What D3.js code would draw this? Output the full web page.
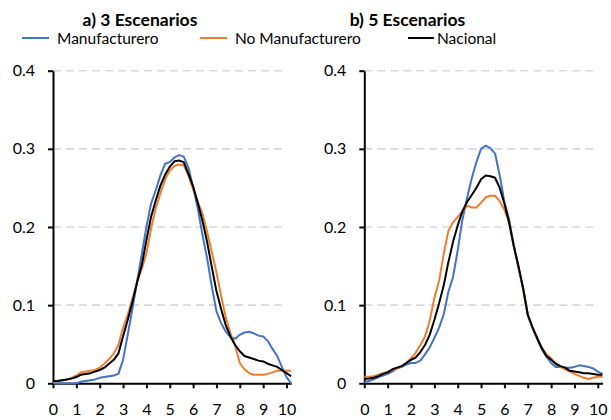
<!DOCTYPE html>
<html>
<head>
<meta charset="utf-8">
<script src="https://cdn.jsdelivr.net/npm/d3@7"></script>
<style>
  html, body { margin: 0; padding: 0; background: #fff; }
  svg { display: block; font-family: Lato, "Open Sans", sans-serif; }
</style>
</head>
<body>
<svg id="chart" width="611" height="420"></svg>
<script>
// Grid of x positions shared by every curve
const xGrid = [0, 0.2, 0.4, 0.6, 0.8, 1.0, 1.2, 1.4, 1.6, 1.8,
  2.0, 2.2, 2.4, 2.6, 2.8, 3.0, 3.2, 3.4, 3.6, 3.8,
  4.0, 4.2, 4.4, 4.6, 4.8, 5.0, 5.2, 5.4, 5.6, 5.8,
  6.0, 6.2, 6.4, 6.6, 6.8, 7.0, 7.2, 7.4, 7.6, 7.8,
  8.0, 8.2, 8.4, 8.6, 8.8, 9.0, 9.2, 9.4, 9.6, 9.8,
  10.0, 10.2];

// a) 3 Escenarios
const manuf3 = [0.000, 0.000, 0.000, 0.000, 0.000, 0.000, 0.002, 0.003, 0.004, 0.005,
  0.007, 0.008, 0.009, 0.010, 0.012, 0.030, 0.062, 0.095, 0.130, 0.165,
  0.200, 0.230, 0.247, 0.266, 0.281, 0.283, 0.289, 0.292, 0.290, 0.276,
  0.251, 0.224, 0.190, 0.160, 0.124, 0.092, 0.077, 0.066, 0.059, 0.057,
  0.062, 0.065, 0.066, 0.064, 0.061, 0.060, 0.054, 0.044, 0.035, 0.021,
  0.008, 0.000];
const noManuf3 = [0.002, 0.003, 0.004, 0.005, 0.007, 0.010, 0.014, 0.015, 0.016, 0.017,
  0.020, 0.025, 0.031, 0.038, 0.049, 0.071, 0.088, 0.108, 0.130, 0.146,
  0.166, 0.198, 0.224, 0.243, 0.261, 0.272, 0.278, 0.280, 0.279, 0.266,
  0.248, 0.232, 0.217, 0.194, 0.168, 0.142, 0.112, 0.084, 0.064, 0.048,
  0.026, 0.018, 0.013, 0.011, 0.011, 0.011, 0.012, 0.014, 0.016, 0.016,
  0.016, 0.016];
const nacional3 = [0.003, 0.003, 0.004, 0.005, 0.006, 0.008, 0.011, 0.012, 0.013, 0.015,
  0.017, 0.020, 0.025, 0.030, 0.038, 0.060, 0.081, 0.104, 0.129, 0.151,
  0.183, 0.213, 0.234, 0.253, 0.267, 0.277, 0.284, 0.285, 0.283, 0.268,
  0.252, 0.231, 0.208, 0.181, 0.149, 0.118, 0.095, 0.074, 0.060, 0.049,
  0.041, 0.035, 0.033, 0.031, 0.029, 0.028, 0.025, 0.023, 0.021, 0.017,
  0.013, 0.009];

// b) 5 Escenarios
const manuf5 = [0.001, 0.003, 0.005, 0.008, 0.010, 0.012, 0.015, 0.019, 0.021, 0.024,
  0.026, 0.026, 0.029, 0.037, 0.046, 0.058, 0.071, 0.088, 0.117, 0.136,
  0.170, 0.209, 0.237, 0.262, 0.283, 0.300, 0.304, 0.301, 0.294, 0.266,
  0.232, 0.210, 0.176, 0.148, 0.122, 0.088, 0.071, 0.057, 0.044, 0.034,
  0.026, 0.021, 0.021, 0.020, 0.020, 0.021, 0.023, 0.022, 0.021, 0.019,
  0.015, 0.012];
const noManuf5 = [0.0085, 0.0085, 0.009, 0.011, 0.013, 0.015, 0.017, 0.019, 0.022, 0.026,
  0.032, 0.039, 0.049, 0.060, 0.080, 0.109, 0.131, 0.165, 0.195, 0.206,
  0.213, 0.220, 0.227, 0.225, 0.225, 0.231, 0.238, 0.240, 0.240, 0.233,
  0.222, 0.206, 0.176, 0.150, 0.120, 0.087, 0.072, 0.058, 0.046, 0.037,
  0.032, 0.025, 0.021, 0.018, 0.015, 0.012, 0.0095, 0.007, 0.0055, 0.007,
  0.0085, 0.0085];
const nacional5 = [0.0055, 0.006, 0.007, 0.009, 0.012, 0.014, 0.018, 0.020, 0.022, 0.026,
  0.030, 0.033, 0.040, 0.049, 0.062, 0.081, 0.102, 0.125, 0.155, 0.181,
  0.202, 0.220, 0.232, 0.241, 0.250, 0.261, 0.266, 0.265, 0.263, 0.250,
  0.230, 0.206, 0.176, 0.150, 0.122, 0.088, 0.072, 0.058, 0.045, 0.035,
  0.030, 0.025, 0.022, 0.020, 0.016, 0.015, 0.014, 0.013, 0.013, 0.012,
  0.011, 0.011];

const xTicks = [0, 1, 2, 3, 4, 5, 6, 7, 8, 9, 10];
const yTicks = [0, 0.1, 0.2, 0.3, 0.4];
const yTickLabels = ["0", "0.1", "0.2", "0.3", "0.4"];
const panelTitles = ["a) 3 Escenarios", "b) 5 Escenarios"];
const seriesNames = ["Manufacturero", "No Manufacturero", "Nacional"];

const colors = { "Manufacturero": "#4472C4", "No Manufacturero": "#ED7D31", "Nacional": "#000000" };

const panels = [
  { title: panelTitles[0], left: 53, series: [manuf3, noManuf3, nacional3], titleX: 140 },
  { title: panelTitles[1], left: 364.3, series: [manuf5, noManuf5, nacional5], titleX: 407.5 }
];

const svg = d3.select("#chart");
const unit = 23.35;          // px per x unit
const y = d3.scaleLinear().domain([0, 0.4]).range([383.3, 70.7]);

panels.forEach(p => {
  const x = d3.scaleLinear().domain([0, 10.2]).range([p.left, p.left + unit * 10.2]);
  const g = svg.append("g");

  // dashed horizontal gridlines
  g.append("g").selectAll("line")
    .data(yTicks.filter(t => t > 0))
    .join("line")
    .attr("x1", x(0)).attr("x2", x(10))
    .attr("y1", d => y(d)).attr("y2", d => y(d))
    .attr("stroke", "#d9d9d9").attr("stroke-width", 1.6)
    .attr("stroke-dasharray", "8,5");

  // y axis
  const yAxis = g.append("g")
    .attr("transform", `translate(${x(0)},0)`)
    .call(d3.axisLeft(y).tickValues(yTicks).tickSizeInner(5).tickSizeOuter(0)
      .tickPadding(13).tickFormat((d, i) => yTickLabels[i]));
  yAxis.select(".domain").attr("stroke", "#000").attr("stroke-width", 2);
  yAxis.selectAll(".tick line").attr("stroke", "#000").attr("stroke-width", 2);
  yAxis.selectAll(".tick text").attr("font-size", 16).attr("fill", "#000")
    .attr("font-family", "Lato, sans-serif");

  // x axis
  const xAxis = g.append("g")
    .attr("transform", `translate(0,${y(0)})`)
    .call(d3.axisBottom(x).tickValues(xTicks).tickSizeInner(5).tickSizeOuter(0)
      .tickPadding(15).tickFormat(d3.format("d")));
  xAxis.select(".domain").attr("stroke", "#000").attr("stroke-width", 2);
  xAxis.selectAll(".tick line").attr("stroke", "#000").attr("stroke-width", 2);
  xAxis.selectAll(".tick text").attr("font-size", 16).attr("fill", "#000")
    .attr("font-family", "Lato, sans-serif");

  // curves
  const line = d3.line().x((d, i) => x(xGrid[i])).y(d => y(d));
  p.series.forEach((vals, k) => {
    g.append("path")
      .datum(vals)
      .attr("fill", "none")
      .attr("stroke", colors[seriesNames[k]])
      .attr("stroke-width", 2)
      .attr("stroke-linejoin", "round")
      .attr("d", line);
  });

  // panel title
  g.append("text")
    .attr("x", p.titleX).attr("y", 26)
    .attr("text-anchor", "middle")
    .attr("font-size", 17.5).attr("font-weight", "bold")
    .text(p.title);
});

// legend
const legendItems = [
  { name: seriesNames[0], x1: 22, x2: 49, tx: 57 },
  { name: seriesNames[1], x1: 200, x2: 227, tx: 235 },
  { name: seriesNames[2], x1: 408, x2: 434, tx: 437 }
];
const legend = svg.append("g");
legendItems.forEach(it => {
  legend.append("line")
    .attr("x1", it.x1).attr("x2", it.x2).attr("y1", 38).attr("y2", 38)
    .attr("stroke", colors[it.name]).attr("stroke-width", 2);
  legend.append("text")
    .attr("x", it.tx).attr("y", 44)
    .attr("font-size", 15.5)
    .text(it.name);
});
</script>
</body>
</html>
